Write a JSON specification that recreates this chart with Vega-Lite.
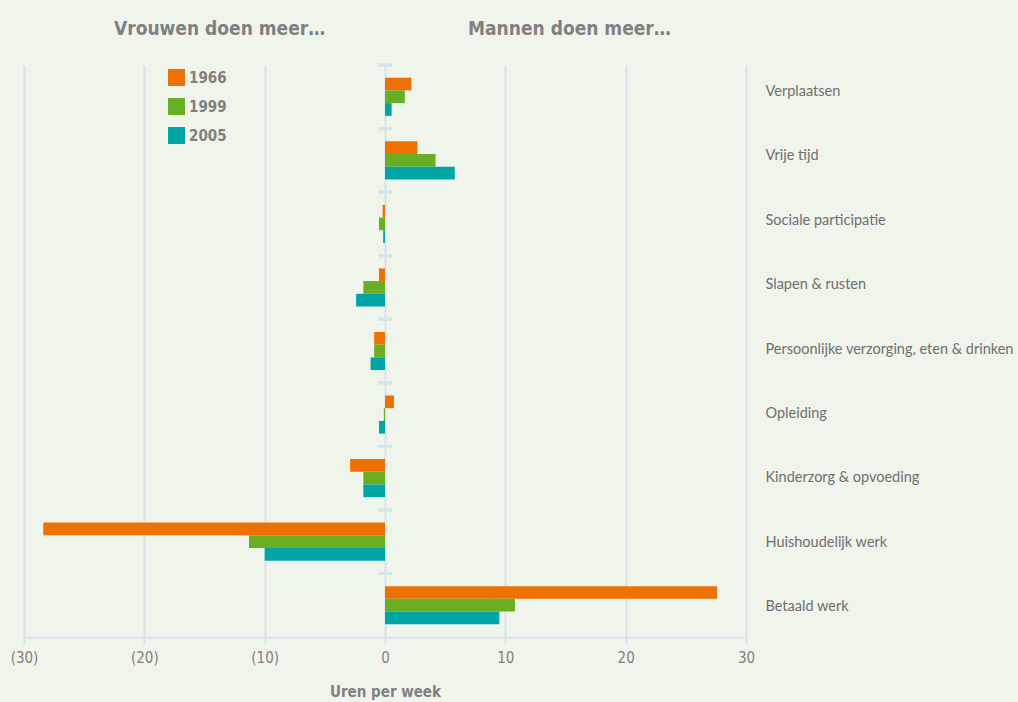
{
  "$schema": "https://vega.github.io/schema/vega-lite/v6.json",
  "autosize": "none",
  "width": 722,
  "height": 572,
  "padding": {"left": 24, "top": 65, "right": 272, "bottom": 65},
  "background": "#F0F5EC",
  "config": {"view": {"stroke": null}},
  "title": {
    "text": "Vrouwen doen meer…\u00a0\u00a0\u00a0\u00a0\u00a0\u00a0\u00a0\u00a0\u00a0\u00a0\u00a0\u00a0\u00a0\u00a0\u00a0\u00a0\u00a0\u00a0\u00a0\u00a0\u00a0\u00a0\u00a0\u00a0Mannen doen meer…",
    "anchor": "start",
    "frame": "group",
    "dx": 90,
    "offset": 25,
    "font": "DejaVu Sans Condensed",
    "fontSize": 19,
    "fontWeight": "bold",
    "color": "#808080"
  },
  "data": {
    "values": [
      {"cat": "Verplaatsen", "year": "1966", "value": 2.2},
      {"cat": "Verplaatsen", "year": "1999", "value": 1.65},
      {"cat": "Verplaatsen", "year": "2005", "value": 0.55},
      {"cat": "Vrije tijd", "year": "1966", "value": 2.7},
      {"cat": "Vrije tijd", "year": "1999", "value": 4.2},
      {"cat": "Vrije tijd", "year": "2005", "value": 5.8},
      {"cat": "Sociale participatie", "year": "1966", "value": -0.2},
      {"cat": "Sociale participatie", "year": "1999", "value": -0.5},
      {"cat": "Sociale participatie", "year": "2005", "value": -0.15},
      {"cat": "Slapen & rusten", "year": "1966", "value": -0.5},
      {"cat": "Slapen & rusten", "year": "1999", "value": -1.8},
      {"cat": "Slapen & rusten", "year": "2005", "value": -2.4},
      {"cat": "Persoonlijke verzorging, eten & drinken", "year": "1966", "value": -0.9},
      {"cat": "Persoonlijke verzorging, eten & drinken", "year": "1999", "value": -0.9},
      {"cat": "Persoonlijke verzorging, eten & drinken", "year": "2005", "value": -1.2},
      {"cat": "Opleiding", "year": "1966", "value": 0.75},
      {"cat": "Opleiding", "year": "1999", "value": -0.1},
      {"cat": "Opleiding", "year": "2005", "value": -0.5},
      {"cat": "Kinderzorg & opvoeding", "year": "1966", "value": -2.9},
      {"cat": "Kinderzorg & opvoeding", "year": "1999", "value": -1.8},
      {"cat": "Kinderzorg & opvoeding", "year": "2005", "value": -1.8},
      {"cat": "Huishoudelijk werk", "year": "1966", "value": -28.4},
      {"cat": "Huishoudelijk werk", "year": "1999", "value": -11.3},
      {"cat": "Huishoudelijk werk", "year": "2005", "value": -10.0},
      {"cat": "Betaald werk", "year": "1966", "value": 27.6},
      {"cat": "Betaald werk", "year": "1999", "value": 10.8},
      {"cat": "Betaald werk", "year": "2005", "value": 9.5}
    ]
  },
  "layer": [
    {
      "mark": {"type": "bar"},
      "encoding": {
        "y": {
          "field": "cat",
          "type": "nominal",
          "sort": null,
          "scale": {"paddingInner": 0.4, "paddingOuter": 0.2},
          "axis": {
            "orient": "right",
            "title": null,
            "domain": false,
            "ticks": false,
            "labelPadding": 19,
            "labelOffset": {"expr": "-5 + 0.875 * indexof(['Verplaatsen','Vrije tijd','Sociale participatie','Slapen & rusten','Persoonlijke verzorging, eten & drinken','Opleiding','Kinderzorg & opvoeding','Huishoudelijk werk','Betaald werk'], datum.value)"},
            "labelFont": "Lato",
            "labelFontSize": 14.5,
            "labelColor": "#6e6e6e",
            "labelLimit": 400
          }
        },
        "yOffset": {"field": "year", "type": "nominal", "sort": ["1966", "1999", "2005"]},
        "x": {
          "field": "value",
          "type": "quantitative",
          "scale": {"domain": [-30, 30], "nice": false},
          "axis": {
            "values": [-30, -20, -10, 0, 10, 20, 30],
            "labelExpr": "datum.value < 0 ? '(' + abs(datum.value) + ')' : datum.value",
            "labelFlush": false,
            "title": "Uren per week",
            "titleFont": "DejaVu Sans Condensed",
            "titleFontSize": 15,
            "titleFontWeight": "bold",
            "titleColor": "#808080",
            "titlePadding": 19,
            "labelFont": "DejaVu Sans Condensed",
            "labelFontSize": 15,
            "labelColor": "#808080",
            "labelPadding": 6,
            "grid": true,
            "gridColor": "#D6E4E8",
            "gridWidth": 2,
            "domainColor": "#D6E4E8",
            "domainWidth": 2,
            "tickColor": "#D6E4E8",
            "tickWidth": 2,
            "tickSize": 7
          }
        },
        "color": {
          "field": "year",
          "type": "nominal",
          "scale": {"domain": ["1966", "1999", "2005"], "range": ["#EE7203", "#6AAE24", "#00A5A6"]},
          "legend": {
            "title": null,
            "orient": "none",
            "legendX": 144,
            "legendY": 4,
            "symbolType": "square",
            "symbolSize": 289,
            "symbolStrokeWidth": 0,
            "symbolOpacity": 1,
            "rowPadding": 12,
            "labelFont": "DejaVu Sans Condensed",
            "labelFontWeight": "bold",
            "labelFontSize": 15,
            "labelColor": "#808080",
            "labelOffset": 4
          }
        }
      }
    },
    {
      "mark": {"type": "tick", "orient": "horizontal", "size": 14, "thickness": 3, "color": "#D6E4E8"},
      "encoding": {
        "x": {"datum": 0, "type": "quantitative"},
        "y": {"field": "cat", "type": "nominal", "sort": null, "bandPosition": -0.333}
      }
    }
  ]
}
